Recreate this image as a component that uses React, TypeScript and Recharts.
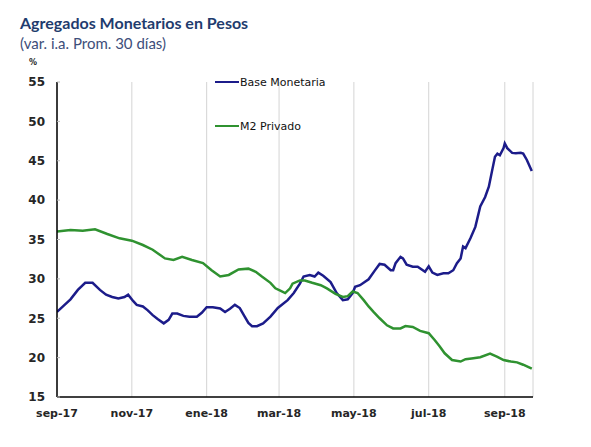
import React from "react";
import { LineChart, Line, XAxis, YAxis, CartesianGrid, Legend } from "recharts";

// Days since 1 Sep 2017
const baseDays = [0, 11, 17, 23, 29, 35, 40, 45, 50, 55, 58, 62, 65, 70, 74, 78, 82, 87, 91, 94, 98, 103, 108, 114, 118, 122, 127, 133, 137, 141, 145, 149, 153, 156, 159, 163, 168, 174, 180, 188, 193, 198, 201, 206, 210, 213, 217, 223, 228, 233, 237, 241, 243, 247, 254, 259, 263, 267, 272, 274, 276, 280, 282, 285, 290, 294, 300, 303, 306, 310, 315, 319, 323, 326, 329, 331, 333, 337, 341, 345, 349, 352, 355, 357, 359, 361, 364, 365, 367, 371, 374, 378, 380, 383, 387];
const baseValues = [25.8, 27.4, 28.6, 29.5, 29.5, 28.6, 28.0, 27.7, 27.5, 27.7, 28.0, 27.2, 26.7, 26.5, 26.0, 25.4, 24.9, 24.35, 24.8, 25.6, 25.6, 25.3, 25.2, 25.2, 25.7, 26.4, 26.4, 26.25, 25.8, 26.2, 26.7, 26.3, 25.2, 24.4, 24.0, 24.0, 24.35, 25.2, 26.3, 27.3, 28.2, 29.4, 30.3, 30.5, 30.3, 30.8, 30.4, 29.6, 28.2, 27.3, 27.4, 28.2, 29.0, 29.2, 29.95, 31.05, 31.9, 31.8, 31.1, 31.1, 32.0, 32.8, 32.6, 31.8, 31.55, 31.55, 30.9, 31.6, 30.8, 30.5, 30.7, 30.7, 31.1, 32.0, 32.6, 34.1, 33.9, 35.15, 36.6, 39.2, 40.4, 41.7, 44.0, 45.5, 45.9, 45.7, 46.6, 47.2, 46.6, 46.0, 45.95, 46.0, 45.9, 45.1, 43.7];

const m2Days = [0, 11, 21, 31, 41, 51, 61, 70, 78, 88, 95, 102, 110, 119, 126, 133, 140, 148, 156, 162, 167, 174, 178, 182, 186, 190, 192, 198, 202, 208, 215, 220, 227, 233, 237, 241, 245, 250, 254, 258, 263, 269, 274, 280, 284, 290, 296, 303, 308, 312, 316, 322, 329, 333, 338, 345, 353, 359, 364, 370, 375, 380, 387];
const m2Values = [36.0, 36.2, 36.1, 36.3, 35.7, 35.15, 34.85, 34.3, 33.7, 32.6, 32.4, 32.8, 32.4, 32.0, 31.1, 30.3, 30.5, 31.2, 31.3, 30.9, 30.3, 29.5, 28.8, 28.5, 28.2, 28.8, 29.4, 29.8, 29.8, 29.5, 29.2, 28.8, 28.1, 27.7, 27.8, 28.4, 28.2, 27.3, 26.5, 25.8, 25.0, 24.1, 23.7, 23.7, 24.0, 23.9, 23.4, 23.1, 22.2, 21.4, 20.55, 19.7, 19.5, 19.8, 19.9, 20.05, 20.5, 20.1, 19.7, 19.5, 19.4, 19.1, 18.6];

const tickDays = [0, 61, 122, 181, 242, 303, 365];
const tickLabels = ["sep-17", "nov-17", "ene-18", "mar-18", "may-18", "jul-18", "sep-18"];
const yTicks = [15, 20, 25, 30, 35, 40, 45, 50, 55];

const baseData = baseDays.map((d, i) => ({ d, v: baseValues[i] }));
const m2Data = m2Days.map((d, i) => ({ d, v: m2Values[i] }));

const BLUE = "#1c1c8a";
const GREEN = "#2f9230";
const FONT = "'DejaVu Sans', Verdana, sans-serif";

const legendItems = [
  { name: "Base Monetaria", color: BLUE },
  { name: "M2 Privado", color: GREEN },
];

const renderLegend = () => (
  <div style={{ fontFamily: FONT, fontSize: 11, color: "#111" }}>
    {legendItems.map((it, i) => (
      <div key={it.name} style={{ display: "flex", alignItems: "center", height: 14, marginBottom: i === 0 ? 30 : 0 }}>
        <div style={{ width: 24, height: 2, background: it.color, marginRight: 1 }} />
        <span>{it.name}</span>
      </div>
    ))}
  </div>
);

export default function App() {
  return (
    <div style={{ position: "absolute", left: 0, top: 0, width: 591, height: 447, background: "#fff" }}>
      <div style={{ position: "absolute", left: 20, top: 13, fontFamily: "Lato, sans-serif", fontWeight: 700, fontSize: 16, color: "#1f3c6e", whiteSpace: "nowrap" }}>
        Agregados Monetarios en Pesos
      </div>
      <div style={{ position: "absolute", left: 20, top: 34, fontFamily: "Lato, sans-serif", fontSize: 15, color: "#3d4e7a", whiteSpace: "nowrap" }}>
        (var. i.a. Prom. 30 días)
      </div>
      <div style={{ position: "absolute", left: 29, top: 58, fontFamily: FONT, fontWeight: 700, fontSize: 8, color: "#222" }}>
        %
      </div>
      <LineChart width={591} height={447} margin={{ top: 82, right: 58, bottom: 30, left: 27 }}>
        <CartesianGrid vertical={true} horizontal={false} stroke="#d4d4d4" strokeWidth={1} />
        <XAxis
          type="number"
          dataKey="d"
          domain={[0, 388]}
          ticks={tickDays}
          tickFormatter={(v: number) => tickLabels[tickDays.indexOf(v)] ?? ""}
          axisLine={{ stroke: "#000", strokeWidth: 1.5 }}
          tickLine={false}
          tickMargin={6}
          height={20}
          tick={{ fontFamily: FONT, fontSize: 11, fontWeight: 700, fill: "#262626" }}
          allowDataOverflow
        />
        <YAxis
          type="number"
          domain={[15, 55]}
          ticks={yTicks}
          width={30}
          axisLine={{ stroke: "#000", strokeWidth: 1.5 }}
          tickLine={{ stroke: "#bbb" }}
          tickSize={-3}
          tickMargin={15}
          tick={{ fontFamily: FONT, fontSize: 12, fontWeight: 700, fill: "#262626" }}
        />
        <Legend
          content={renderLegend}
          layout="horizontal"
          verticalAlign="middle"
          align="center"
          wrapperStyle={{ position: "absolute", left: 215, top: 75, width: 160 }}
        />
        <Line data={baseData} dataKey="v" name="Base Monetaria" stroke={BLUE} strokeWidth={2.5} dot={false} isAnimationActive={false} type="linear" />
        <Line data={m2Data} dataKey="v" name="M2 Privado" stroke={GREEN} strokeWidth={2.5} dot={false} isAnimationActive={false} type="linear" />
      </LineChart>
    </div>
  );
}
